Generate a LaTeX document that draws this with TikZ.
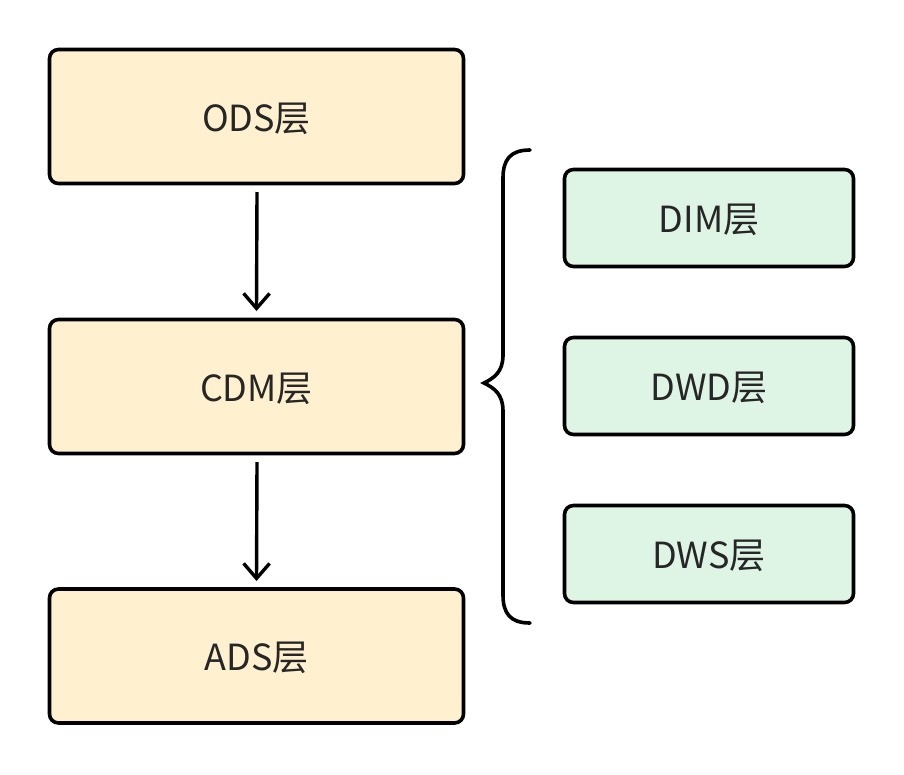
\documentclass[tikz,border=0pt]{standalone}
\usepackage{fontspec}
\setmainfont{Noto Sans CJK SC}
\usetikzlibrary{arrows.meta}
\definecolor{ylw}{HTML}{FFF1CF}
\definecolor{grn}{HTML}{DEF5E6}
\definecolor{txt}{HTML}{262626}
\newcommand{\lbl}[1]{\smash{\raisebox{-14.5pt}{#1}}}
\begin{document}
\begin{tikzpicture}[x=1pt,y=-1pt,
  lay/.style={draw=black, line width=3.6pt, rounded corners=9pt, fill=ylw, minimum width=414pt, minimum height=134pt, inner sep=0pt, font=\fontsize{36}{40}\selectfont, text=txt},
  sub/.style={lay, fill=grn, minimum width=289pt, minimum height=97pt},
  flow/.style={line width=3.4pt, -{Straight Barb[length=15pt,width=26pt,line width=3.4pt]}}
]
\useasboundingbox (0,0) rectangle (904,774);
\node[lay] (ods) at (256.5,116.5) {\lbl{ODS层}};
\node[lay] (cdm) at (256.5,386.5) {\lbl{CDM层}};
\node[lay] (ads) at (256.5,656) {\lbl{ADS层}};
\node[sub] (dim) at (709,218) {\lbl{DIM层}};
\node[sub] (dwd) at (709,386) {\lbl{DWD层}};
\node[sub] (dws) at (709,554) {\lbl{DWS层}};
\draw[flow] (257,192) -- (ods.south |- 0,311);
\draw[flow] (257,462) -- (cdm.south |- 0,581);
\coordinate (btop) at (530,150);
\coordinate (bbot) at (530,623);
\coordinate (btip) at (484,383);
\draw[line width=3.6pt, line cap=round]
  (btop) .. controls (510,150) and (503,160) .. (503,178)
  -- (503,355) .. controls (503,372) and (494,378) .. (btip)
  .. controls (494,388) and (503,394) .. (503,411)
  -- (503,595) .. controls (503,613) and (510,623) .. (bbot);
\end{tikzpicture}
\end{document}
